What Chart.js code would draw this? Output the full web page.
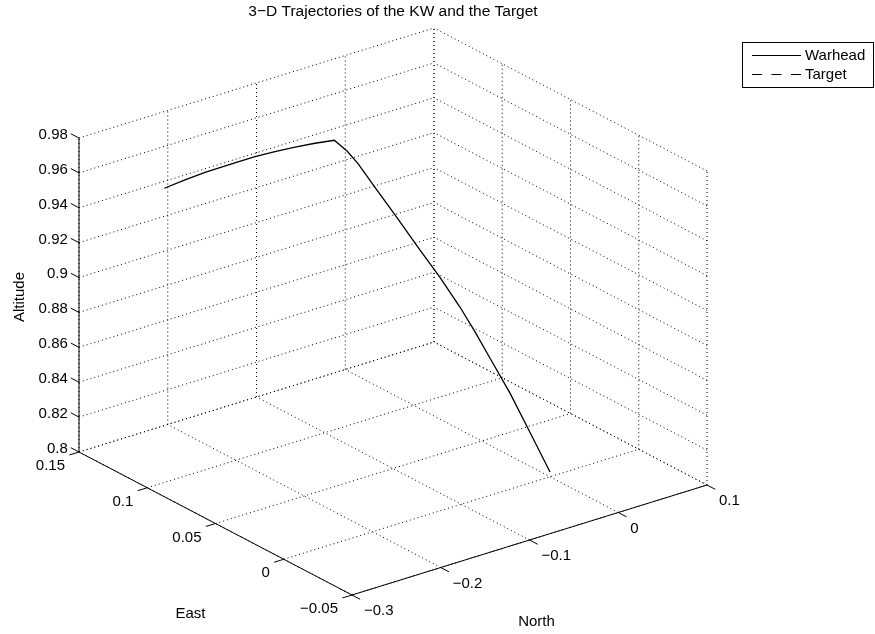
<!DOCTYPE html>
<html>
<head>
<meta charset="utf-8">
<title>3-D Trajectories</title>
<script src="https://cdn.jsdelivr.net/npm/chart.js@4"></script>
<style>
  html, body { margin: 0; padding: 0; background: #fff; }
  canvas { display: block; }
</style>
</head>
<body>
<canvas id="trajChart" width="875" height="634"></canvas>
<script>
// axis ticks
const eastTicks   = [-0.05, 0, 0.05, 0.1, 0.15];
const eastLabels  = ['\u22120.05', '0', '0.05', '0.1', '0.15'];
const northTicks  = [-0.3, -0.2, -0.1, 0, 0.1];
const northLabels = ['\u22120.3', '\u22120.2', '\u22120.1', '0', '0.1'];
const altTicks    = [0.8, 0.82, 0.84, 0.86, 0.88, 0.9, 0.92, 0.94, 0.96, 0.98];
const altLabels   = ['0.8', '0.82', '0.84', '0.86', '0.88', '0.9', '0.92', '0.94', '0.96', '0.98'];

// warhead (KW) path: climb-out leg, then the dive onto the target
const warheadEast  = [0.1200, 0.1151, 0.1104, 0.1045, 0.0987, 0.0940, 0.0892, 0.0845, 0.0800,
                      0.0753, 0.0712, 0.0649, 0.0575, 0.0482, 0.0408, 0.0334, 0.0278,
                      0.0223, 0.0148, 0.0074, 0.0000];
const warheadNorth = [-0.2500, -0.2342, -0.2189, -0.1998, -0.1806, -0.1653, -0.1501, -0.1348, -0.1200,
                      -0.1129, -0.1068, -0.0974, -0.0862, -0.0723, -0.0612, -0.0501, -0.0417,
                      -0.0334, -0.0223, -0.0111, 0.0000];
const warheadAlt   = [0.9556, 0.9599, 0.9637, 0.9678, 0.9715, 0.9739, 0.9760, 0.9778, 0.9790,
                      0.9737, 0.9672, 0.9546, 0.9401, 0.9216, 0.9072, 0.8915, 0.8782,
                      0.8642, 0.8454, 0.8241, 0.8027];

// target position
const targetEast  = [0.0000];
const targetNorth = [0.0000];
const targetAlt   = [0.8027];

const FONT = '"Liberation Sans", Arial, Helvetica, sans-serif';
const FONT_SIZE = 15;

const eLim = [eastTicks[0], eastTicks[eastTicks.length - 1]];
const nLim = [northTicks[0], northTicks[northTicks.length - 1]];
const aLim = [altTicks[0], altTicks[altTicks.length - 1]];

// view frame: floor corner (east min, north min, alt min) and screen run of each axis
const frame = {
  origin: [352, 595],
  east:   [-273, -143],
  north:  [355, -110],
  alt:    [0, -314]
};

function project(e, n, a) {
  const u = (e - eLim[0]) / (eLim[1] - eLim[0]);
  const v = (n - nLim[0]) / (nLim[1] - nLim[0]);
  const w = (a - aLim[0]) / (aLim[1] - aLim[0]);
  return {
    x: frame.origin[0] + u * frame.east[0] + v * frame.north[0] + w * frame.alt[0],
    y: frame.origin[1] + u * frame.east[1] + v * frame.north[1] + w * frame.alt[1]
  };
}

function path(es, ns, as) {
  return es.map((e, i) => project(e, ns[i], as[i]));
}

// list of 3-D segments -> one point list with gaps between segments
function segments(list) {
  const pts = [];
  list.forEach(([p, q]) => {
    pts.push(project(p[0], p[1], p[2]), project(q[0], q[1], q[2]), { x: null, y: null });
  });
  return pts;
}

// grid on the floor and the two back walls
const gridSegs = [];
eastTicks.forEach(e => {
  gridSegs.push([[e, nLim[0], aLim[0]], [e, nLim[1], aLim[0]]]);
  gridSegs.push([[e, nLim[1], aLim[0]], [e, nLim[1], aLim[1]]]);
});
northTicks.forEach(n => {
  gridSegs.push([[eLim[0], n, aLim[0]], [eLim[1], n, aLim[0]]]);
  gridSegs.push([[eLim[1], n, aLim[0]], [eLim[1], n, aLim[1]]]);
});
altTicks.forEach(a => {
  gridSegs.push([[eLim[1], nLim[0], a], [eLim[1], nLim[1], a]]);
  gridSegs.push([[eLim[0], nLim[1], a], [eLim[1], nLim[1], a]]);
});

// axis lines plus tick marks
const eSpan = eLim[1] - eLim[0];
const nSpan = nLim[1] - nLim[0];
const axisSegs = [
  [[eLim[1], nLim[0], aLim[0]], [eLim[1], nLim[0], aLim[1]]],
  [[eLim[1], nLim[0], aLim[0]], [eLim[0], nLim[0], aLim[0]]],
  [[eLim[0], nLim[0], aLim[0]], [eLim[0], nLim[1], aLim[0]]]
];
eastTicks.forEach(e => axisSegs.push([[e, nLim[0], aLim[0]], [e, nLim[0] - 0.027 * nSpan, aLim[0]]]));
northTicks.forEach(n => axisSegs.push([[eLim[0], n, aLim[0]], [eLim[0] - 0.03 * eSpan, n, aLim[0]]]));
altTicks.forEach(a => axisSegs.push([[eLim[1], nLim[0], a], [eLim[1] + 0.03 * eSpan, nLim[0], a]]));

const labelsPlugin = {
  id: 'boxLabels',
  afterDraw(chart) {
    const ctx = chart.ctx;
    const sx = chart.scales.x, sy = chart.scales.y;
    const px = p => ({ x: sx.getPixelForValue(p.x), y: sy.getPixelForValue(p.y) });
    ctx.save();
    ctx.fillStyle = '#000';
    ctx.font = FONT_SIZE + 'px ' + FONT;
    ctx.textBaseline = 'middle';

    ctx.textAlign = 'right';
    altTicks.forEach((a, i) => {
      const p = px(project(eLim[1] + 0.03 * eSpan, nLim[0], a));
      ctx.fillText(altLabels[i], p.x - 3, p.y + 1);
    });
    eastTicks.forEach((e, i) => {
      const p = px(project(e, nLim[0], aLim[0]));
      ctx.fillText(eastLabels[i], p.x - 14, p.y + 14);
    });
    ctx.textAlign = 'left';
    northTicks.forEach((n, i) => {
      const p = px(project(eLim[0], n, aLim[0]));
      ctx.fillText(northLabels[i], p.x + 12, p.y + 16);
    });

    // axis titles
    ctx.textAlign = 'center';
    const eMid = px(project((eLim[0] + eLim[1]) / 2, nLim[0], aLim[0]));
    ctx.fillText('East', eMid.x - 25, eMid.y + 90);
    const nMid = px(project(eLim[0], (nLim[0] + nLim[1]) / 2, aLim[0]));
    ctx.fillText('North', nMid.x + 7, nMid.y + 82);
    const aMid = px(project(eLim[1], nLim[0], (aLim[0] + aLim[1]) / 2));
    ctx.save();
    ctx.translate(20, aMid.y + 2);
    ctx.rotate(-Math.PI / 2);
    ctx.fillText('Altitude', 0, 0);
    ctx.restore();

    // title centred over the box
    const left = px(project(eLim[1], nLim[0], aLim[0]));
    const right = px(project(eLim[0], nLim[1], aLim[0]));
    ctx.font = '15.5px ' + FONT;
    ctx.fillText('3\u2212D Trajectories of the KW and the Target', (left.x + right.x) / 2, 12);
    ctx.font = FONT_SIZE + 'px ' + FONT;

    // legend
    const lg = { x: 742, y: 42, w: 131, h: 45 };
    ctx.fillStyle = '#fff';
    ctx.fillRect(lg.x, lg.y, lg.w, lg.h);
    ctx.strokeStyle = '#000';
    ctx.lineWidth = 1;
    ctx.strokeRect(lg.x + 0.5, lg.y + 0.5, lg.w, lg.h);
    ctx.fillStyle = '#000';
    ctx.textAlign = 'left';
    chart.data.datasets.filter(d => d.inLegend).forEach((d, i) => {
      const y = lg.y + 13 + i * 19 + 0.5;
      ctx.beginPath();
      ctx.setLineDash(d.borderDash || []);
      ctx.strokeStyle = d.borderColor;
      ctx.lineWidth = 1;
      ctx.moveTo(lg.x + 10, y);
      ctx.lineTo(lg.x + 59, y);
      ctx.stroke();
      ctx.setLineDash([]);
      ctx.fillText(d.label, lg.x + 63, y);
    });
    ctx.restore();
  }
};

new Chart(document.getElementById('trajChart'), {
  type: 'scatter',
  data: {
    datasets: [
      {
        label: 'grid',
        data: segments(gridSegs),
        showLine: true,
        spanGaps: false,
        borderColor: '#000',
        borderWidth: 1,
        borderDash: [1, 3],
        pointRadius: 0
      },
      {
        label: 'axes',
        data: segments(axisSegs),
        showLine: true,
        spanGaps: false,
        borderColor: '#000',
        borderWidth: 1,
        pointRadius: 0
      },
      {
        label: 'Warhead',
        inLegend: true,
        data: path(warheadEast, warheadNorth, warheadAlt),
        showLine: true,
        borderColor: '#000',
        borderWidth: 1.3,
        tension: 0,
        pointRadius: 0
      },
      {
        label: 'Target',
        inLegend: true,
        data: path(targetEast, targetNorth, targetAlt),
        showLine: true,
        borderColor: '#000',
        borderWidth: 1,
        borderDash: [10, 9.5],
        pointRadius: 0
      }
    ]
  },
  options: {
    responsive: false,
    animation: false,
    layout: { padding: 0 },
    plugins: {
      legend: { display: false },
      tooltip: { enabled: false }
    },
    scales: {
      x: { type: 'linear', min: 0, max: 875, display: false },
      y: { type: 'linear', min: 0, max: 634, reverse: true, display: false }
    }
  },
  plugins: [labelsPlugin]
});
</script>
</body>
</html>
